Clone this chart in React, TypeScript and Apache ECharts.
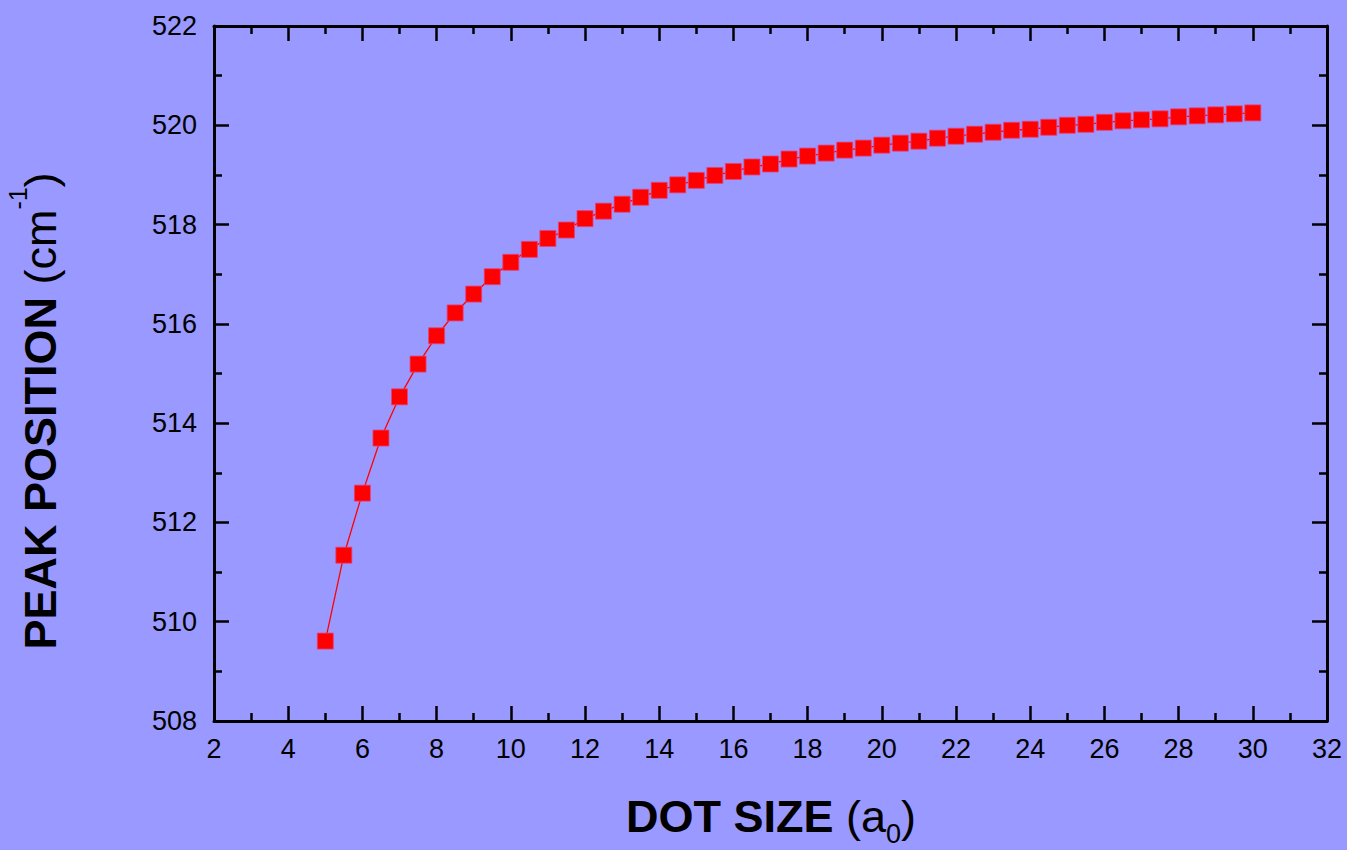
import React, { useEffect, useRef } from "react";
import * as echarts from "echarts";

const dotSize = [5, 5.5, 6, 6.5, 7, 7.5, 8, 8.5, 9, 9.5, 10, 10.5, 11, 11.5, 12, 12.5, 13, 13.5, 14, 14.5, 15, 15.5, 16, 16.5, 17, 17.5, 18, 18.5, 19, 19.5, 20, 20.5, 21, 21.5, 22, 22.5, 23, 23.5, 24, 24.5, 25, 25.5, 26, 26.5, 27, 27.5, 28, 28.5, 29, 29.5, 30];
const peakPosition = [509.61, 511.34, 512.59, 513.70, 514.53, 515.19, 515.76, 516.22, 516.60, 516.95, 517.24, 517.50, 517.72, 517.89, 518.12, 518.27, 518.41, 518.55, 518.69, 518.80, 518.89, 518.99, 519.07, 519.16, 519.22, 519.32, 519.38, 519.44, 519.50, 519.54, 519.60, 519.64, 519.68, 519.74, 519.78, 519.82, 519.86, 519.90, 519.92, 519.96, 520.00, 520.02, 520.06, 520.09, 520.11, 520.13, 520.17, 520.19, 520.21, 520.23, 520.25];

const xMin = 2, xMax = 32, xStep = 2;
const yMin = 508, yMax = 522, yStep = 2;

const FONT = "'Liberation Sans', Arial, sans-serif";
const BG = "#9999ff";

export default function App() {
  const ref = useRef<HTMLDivElement>(null);
  useEffect(() => {
    if (!ref.current) return;
    const chart = echarts.init(ref.current, null, { renderer: "svg" });
    const axisCommon = {
      axisLine: { show: true, onZero: false, lineStyle: { color: "#000", width: 3 } },
      axisTick: { show: true, inside: true, length: 15, lineStyle: { color: "#000", width: 2.5 } },
      minorTick: { show: true, splitNumber: 2, length: 8, lineStyle: { color: "#000", width: 2.5 } },
      splitLine: { show: false },
      minorSplitLine: { show: false },
    };
    const xAxisBase = { type: "value", min: xMin, max: xMax, interval: xStep, ...axisCommon };
    const yAxisBase = { type: "value", min: yMin, max: yMax, interval: yStep, ...axisCommon };
    const option: any = {
      animation: false,
      backgroundColor: BG,
      grid: { left: 214, right: 20, top: 26, bottom: 129, containLabel: false },
      xAxis: [
        { ...xAxisBase, position: "bottom", axisLabel: { show: true, color: "#000", fontSize: 27, fontFamily: FONT, margin: 14 } },
        { ...xAxisBase, position: "top", axisLabel: { show: false } },
      ],
      yAxis: [
        { ...yAxisBase, position: "left", axisLabel: { show: true, color: "#000", fontSize: 27, fontFamily: FONT, margin: 17 } },
        { ...yAxisBase, position: "right", axisLabel: { show: false } },
      ],
      series: [
        {
          type: "line",
          xAxisIndex: 0,
          yAxisIndex: 0,
          data: dotSize.map((x, i) => [x, peakPosition[i]]),
          symbol: "rect",
          symbolSize: 16,
          lineStyle: { color: "#ff0000", width: 1.3 },
          itemStyle: { color: "#ff0000", borderColor: "#e8407a", borderWidth: 0.8 },
        },
      ],
      graphic: [
        {
          type: "text",
          x: 771,
          y: 816,
          style: {
            text: "{b|DOT SIZE }{r|(a}{sub|0}{r|)}",
            align: "center",
            verticalAlign: "middle",
            rich: {
              b: { fontSize: 45, fontWeight: "bold", fontFamily: FONT, fill: "#000" },
              r: { fontSize: 45, fontFamily: FONT, fill: "#000" },
              sub: { fontSize: 27, fontFamily: FONT, fill: "#000", padding: [36, 0, 0, 0] },
            },
          },
        },
        {
          type: "text",
          x: 40,
          y: 411,
          rotation: Math.PI / 2,
          style: {
            text: "{b|PEAK POSITION }{r|(cm}{sup|-1}{r|)}",
            align: "center",
            verticalAlign: "middle",
            rich: {
              b: { fontSize: 45, fontWeight: "bold", fontFamily: FONT, fill: "#000" },
              r: { fontSize: 45, fontFamily: FONT, fill: "#000" },
              sup: { fontSize: 25, fontFamily: FONT, fill: "#000", padding: [0, 0, 44, 0] },
            },
          },
        },
      ],
    };
    chart.setOption(option);
    return () => chart.dispose();
  }, []);
  return (
    <div
      ref={ref}
      style={{ position: "fixed", left: 0, top: 0, width: 1347, height: 850, background: BG }}
    />
  );
}
